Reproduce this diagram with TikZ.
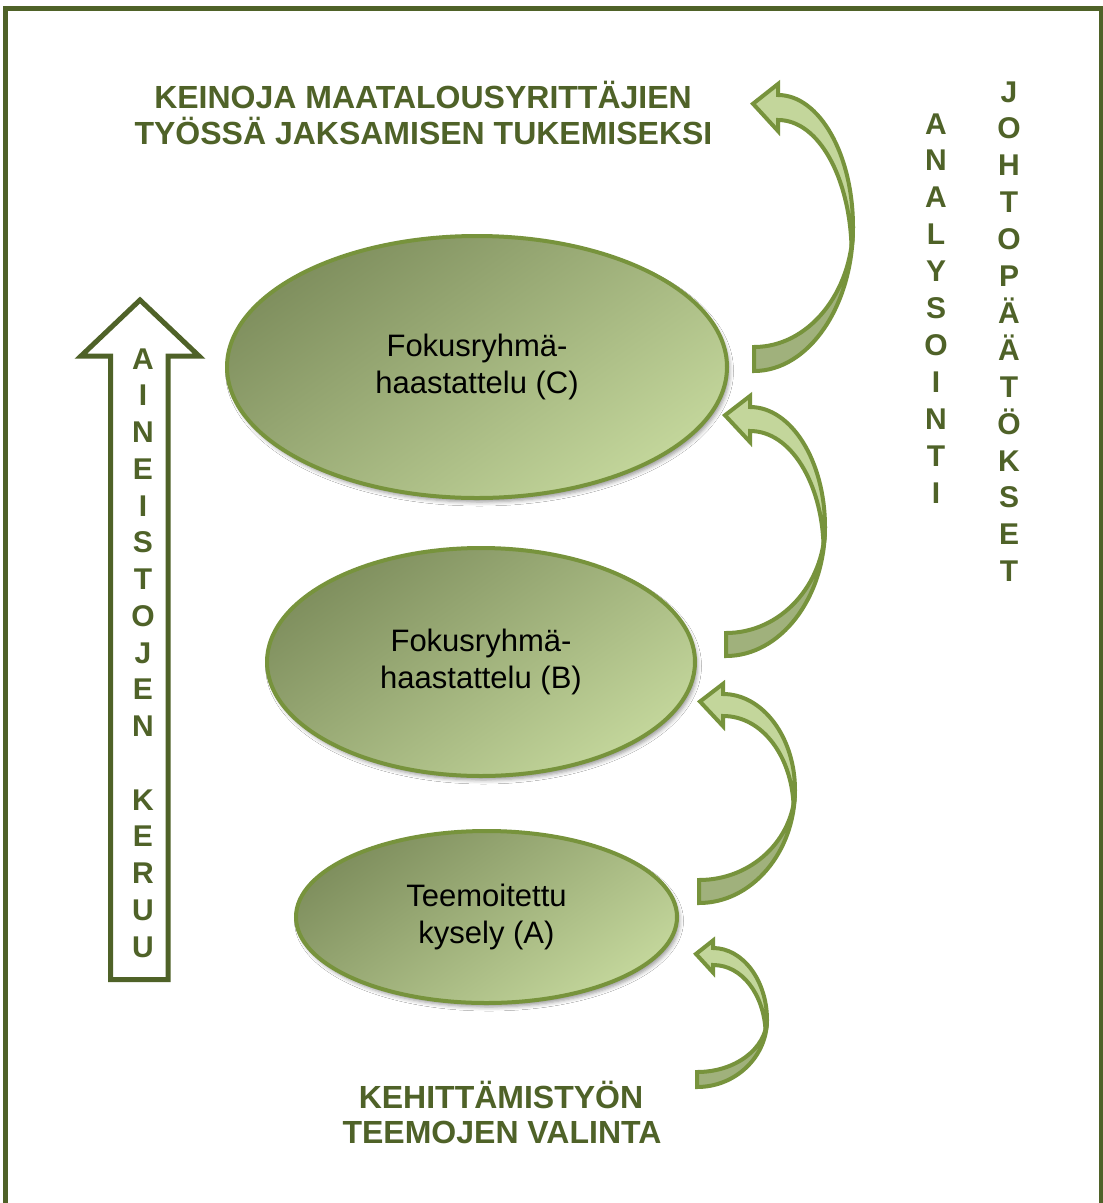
\documentclass[tikz,border=0pt]{standalone}
\usepackage{fontspec}
\setmainfont{Liberation Sans}
\usetikzlibrary{shapes.geometric,shadows.blur}
\definecolor{olivedark}{HTML}{4F6228}
\definecolor{oliveline}{HTML}{77933C}
\definecolor{olivelight}{HTML}{C3D69B}
\definecolor{olivemid}{HTML}{A0B17C}
\definecolor{olivedeep}{HTML}{7F8F5E}
\tikzset{
  frameline/.style={draw=olivedark,line width=4.5pt},
  upbox/.style={draw=olivedark,line width=5pt,fill=white},
  ell/.style={ellipse,draw=oliveline,line width=4pt,inner sep=0pt,
    top color=olivedeep,bottom color=olivelight,shading angle=35,
    blur shadow={shadow xshift=2.5pt,shadow yshift=-4pt,shadow blur radius=4pt,shadow opacity=40},
    align=center,font=\fontsize{31}{37}\selectfont,text=black},
  arrdark/.style={draw=oliveline,line width=4pt,fill=olivemid},
  arrlight/.style={draw=oliveline,line width=4pt,fill=olivelight},
  headtxt/.style={anchor=base,inner sep=0pt,text=olivedark,font=\fontsize{32}{38}\selectfont\bfseries},
  vlet/.style={anchor=base,inner sep=0pt,text=olivedark,font=\fontsize{30}{36}\selectfont\bfseries},
}
\newcommand\curvarr[9]{%
\pgfmathsetmacro\cAx{#1+0.55*(#4-#1)}%
\pgfmathsetmacro\cAy{#5+0.55*(#3-#5)}%
\pgfmathsetmacro\cBy{#5+0.55*(#2-#5)}%
\pgfmathsetmacro\cBx{#1+0.55*(#4-#1)}%
\pgfmathsetmacro\rxm{#4-1}%
\filldraw[arrdark] (#1,#3) .. controls (\cAx,#3) and (#4,\cAy) .. (#4,#5)
   .. controls (\rxm,\cBy) and (\cBx,#2) .. (#1,#2) -- cycle;
\pgfmathsetmacro\dd{0.07*(#3-#7)}%
\pgfmathsetmacro\cCx{#6+0.55*(#4-#6)}%
\pgfmathsetmacro\cCy{#5-0.55*(#5-#7)}%
\pgfmathsetmacro\eAy{#5+0.5*\dd}%
\pgfmathsetmacro\eBy{#5+0.85*\dd}%
\pgfmathsetmacro\eBx{#4-0.5}%
\pgfmathsetmacro\Ex{#4-1.5}%
\pgfmathsetmacro\Ey{#5+\dd}%
\pgfmathsetmacro\cDx{#4-3.5}%
\pgfmathsetmacro\cDy{#5-0.45*(#5-#8)}%
\pgfmathsetmacro\cEx{#6+0.55*(#4-#6)}%
\pgfmathsetmacro\hb{0.44*#9}%
\pgfmathsetmacro\bA{#8+\hb}%
\pgfmathsetmacro\bB{#7-\hb}%
\pgfmathsetmacro\tx{#6-#9}%
\pgfmathsetmacro\ty{(#7+#8)/2-0.15*#9}%
\filldraw[arrlight] (#6,#7) .. controls (\cCx,#7) and (#4,\cCy) .. (#4,#5)
   .. controls (#4,\eAy) and (\eBx,\eBy) .. (\Ex,\Ey)
   .. controls (\cDx,\cDy) and (\cEx,#8) .. (#6,#8)
   -- (#6,\bA) -- (\tx,\ty) -- (#6,\bB) -- cycle;
}
\begin{document}
\begin{tikzpicture}[x=1pt,y=-1pt]
\useasboundingbox (0,0) rectangle (1103,1203);
\fill[white] (0,0) rectangle (1103,1203);
% frame (open at the bottom)
\draw[frameline] (5.5,1203) -- (5.5,8.5) -- (1101,8.5) -- (1101,1203);

% big upward arrow
\draw[upbox] (140,300) -- (199,356) -- (168,356) -- (168,979.5) -- (110.5,979.5) -- (110.5,356) -- (81,356) -- cycle;
\foreach \c [count=\i from 0] in {A,I,N,E,I,S,T,O,J,E,N}
  \node[vlet] (ak\i) at (143,369+36.75*\i) {\c};
\foreach \c [count=\i from 12] in {K,E,R,U,U}
  \node[vlet] (ak\i) at (143,369+36.75*\i) {\c};

% ellipses
\node[ell,minimum width=500pt,minimum height=262pt] (C) at (477,367) {Fokusryhmä-\\haastattelu (C)};
\node[ell,minimum width=428pt,minimum height=228pt] (B) at (481,662) {Fokusryhmä-\\haastattelu (B)};
\node[ell,minimum width=381pt,minimum height=172pt] (A) at (486.5,917) {Teemoitettu\\kysely (A)};

% curved arrows
\curvarr{754}{347}{371}{853}{227}{778}{95}{120}{25}
\curvarr{726}{633}{656}{825}{527}{750}{407}{431}{25}
\curvarr{699}{880}{903}{795}{790}{723}{694}{716}{23}
\curvarr{697}{1072}{1087}{767}{1020}{713}{948}{965}{17}

% headings
\node[headtxt] (t1) at (423,108) {KEINOJA MAATALOUSYRITTÄJIEN};
\node[headtxt] (t2) at (423.5,144) {TYÖSSÄ JAKSAMISEN TUKEMISEKSI};
\node[headtxt] (b1) at (501,1108) {KEHITTÄMISTYÖN};
\node[headtxt] (b2) at (502,1143) {TEEMOJEN VALINTA};

% vertical words
\foreach \c [count=\i from 0] in {A,N,A,L,Y,S,O,I,N,T,I}
  \node[vlet] (an\i) at (936,134+36.9*\i) {\c};
\foreach \c [count=\i from 0] in {J,O,H,T,O,P,Ä,Ä,T,Ö,K,S,E,T}
  \node[vlet] (jo\i) at (1009,102+36.9*\i) {\c};
\end{tikzpicture}
\end{document}
